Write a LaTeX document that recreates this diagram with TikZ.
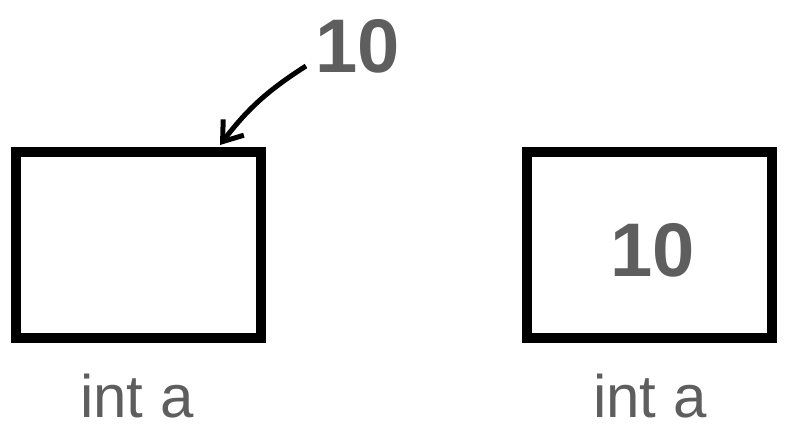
\documentclass[tikz,border=0pt]{standalone}
\usepackage{fontspec}
\setmainfont{Liberation Sans}
\usetikzlibrary{arrows.meta,positioning}
\definecolor{txtgray}{HTML}{5E5E5E}

\begin{document}
\begin{tikzpicture}[x=1pt, y=-1pt,
		cell/.style={draw, line width=9.5pt, minimum width=245pt, minimum height=186pt, inner sep=0pt},
		val/.style={text=txtgray, font=\fontsize{76}{80}\selectfont\bfseries, anchor=base, inner sep=0pt},
		lbl/.style={text=txtgray, font=\fontsize{60}{64}\selectfont, anchor=base, inner sep=0pt}]
		\useasboundingbox (0,0) rectangle (806,431);
		
		% before: value arrives
		\node[cell] at (138.5,245) (boxa) {};
		\node[lbl] at (137,417) (namea) {int a};
		\node[val] at (358,72) (num) {10};
		\coordinate (tail) at (306,66);
		\coordinate (tip) at (220,145);
		\draw[line width=5pt, -{Straight Barb[length=18pt, width=26pt, line width=5pt]}] (tail) to[bend right=10] (tip);
		
		% after: value stored
		\node[cell] at (649.5,245) (boxb) {};
		\node[lbl] at (650,417) (nameb) {int a};
		\node[val] at (653,276) (numb) {10};
	\end{tikzpicture}
\end{document}
